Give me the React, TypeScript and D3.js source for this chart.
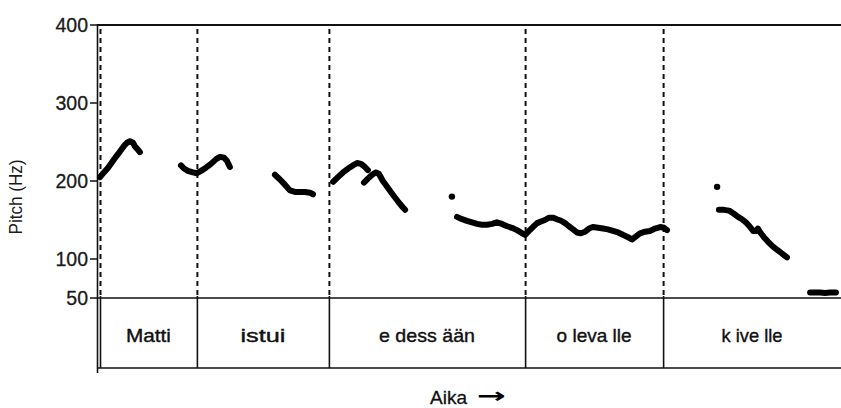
import React from "react";
import * as d3 from "d3";

// time in ms, pitch in Hz
const yTicks = [50, 100, 200, 300, 400];
const wordBounds = [10, 333, 773, 1427, 1887];
const words = ["Matti", "istui", "e dess ään", "o leva lle", "k ive lle"];
const wordWidths = [45, 45, 96, 75, 61];

const seg1: [number, number][] = [[10,205],[23,211],[37,217],[50,224],[63,231],[77,238],[90,245],[100,249],[110,251],[120,249],[127,244],[137,240],[143,237]];
const seg2: [number, number][] = [[280,220],[290,216],[303,213],[320,211],[333,210],[347,213],[363,217],[380,222],[397,228],[410,231],[423,230],[433,226],[443,218]];
const seg3: [number, number][] = [[593,208],[610,202],[627,195],[643,188],[660,186],[677,186],[693,186],[710,185],[720,183]];
const seg4: [number, number][] = [[787,199],[803,205],[820,211],[837,216],[853,220],[867,223],[880,222],[893,218],[903,214]];
const seg5: [number, number][] = [[890,198],[903,203],[917,208],[930,211],[940,209],[953,200],[970,191],[987,182],[1003,174],[1020,166],[1027,163]];
const seg6: [number, number][] = [[1200,154],[1217,151],[1233,149],[1250,147],[1267,145],[1283,144],[1300,144],[1317,145],[1333,147],[1350,145],[1367,142],[1383,140],[1400,137],[1417,133],[1427,131],[1440,136],[1453,141],[1467,146],[1480,148],[1493,150],[1507,153],[1520,153],[1533,151],[1547,149],[1560,146],[1573,142],[1587,138],[1600,134],[1613,133],[1627,135],[1640,139],[1653,141],[1670,140],[1687,139],[1703,138],[1720,136],[1737,134],[1753,131],[1770,128],[1783,125],[1797,129],[1810,133],[1827,135],[1843,136],[1860,139],[1877,141],[1890,140],[1900,137]];
const seg7: [number, number][] = [[2073,163],[2090,163],[2107,162],[2123,158],[2137,154],[2150,151],[2163,147],[2177,141],[2187,136],[2197,136],[2203,139],[2213,133],[2223,128],[2237,122],[2250,117],[2263,113],[2277,109],[2290,105],[2300,102]];
const seg8: [number, number][] = [[2377,57],[2393,57],[2410,57],[2427,56.5],[2443,57],[2463,57]];
const segments = [seg1, seg2, seg3, seg4, seg5, seg6, seg7, seg8];
const isolated: [number, number][] = [[1183,180],[2067,192.5]];

const W = 841, H = 408;
const x = d3.scaleLinear().domain([0, 2480]).range([97, 841]);
const y = d3.scaleLinear().domain([50, 400]).range([298, 25]);
const line = d3.line<[number, number]>().x(d => x(d[0])).y(d => y(d[1]));

const FONT = "'Liberation Sans', Arial, sans-serif";
const TIER_TOP = 298, TIER_BOT = 368;

export default function App() {
  const bx = wordBounds.map(b => x(b));
  const edges = [...bx, W];
  return (
    <svg width={W} height={H} style={{ position: "absolute", left: 0, top: 0, background: "#fff" }}>
      {/* top frame line */}
      <line x1={97} x2={W} y1={25} y2={25} stroke="#111" strokeWidth={2} />
      {/* y axis */}
      <line x1={97.5} x2={97.5} y1={24} y2={373} stroke="#111" strokeWidth={1.6} />
      {yTicks.map(t => (
        <g key={t}>
          <line x1={90} x2={97} y1={y(t)} y2={y(t)} stroke="#111" strokeWidth={1.5} />
          <text x={88} y={y(t) + 7} textAnchor="end" fontFamily={FONT} fontSize={19.5} fill="#1a1a1a"
            stroke="#1a1a1a" strokeWidth={0.3}>{t}</text>
        </g>
      ))}
      <text transform={`translate(22,197) rotate(-90)`} textAnchor="middle" fontFamily={FONT} fontSize={17.5} fill="#1a1a1a"
        textLength={75} lengthAdjust="spacingAndGlyphs">Pitch (Hz)</text>
      {/* dashed word boundaries */}
      {bx.map((b, i) => (
        <line key={i} x1={b + 0.5} x2={b + 0.5} y1={29} y2={TIER_TOP} stroke="#111" strokeWidth={2} strokeDasharray="5,4" />
      ))}
      {/* tier */}
      <line x1={97} x2={W} y1={TIER_TOP} y2={TIER_TOP} stroke="#111" strokeWidth={1.6} />
      <line x1={97} x2={W} y1={TIER_BOT} y2={TIER_BOT} stroke="#111" strokeWidth={1.6} />
      {bx.map((b, i) => (
        <line key={i} x1={b + 0.5} x2={b + 0.5} y1={TIER_TOP - 2} y2={TIER_BOT} stroke="#111" strokeWidth={1.6} />
      ))}
      {words.map((w, i) => (
        <text key={w} x={(edges[i] + edges[i + 1]) / 2} y={342}
          textAnchor="middle" fontFamily={FONT} fontSize={19} fill="#111" stroke="#111" strokeWidth={0.4}
          textLength={wordWidths[i]} lengthAdjust="spacingAndGlyphs">{w}</text>
      ))}
      {/* pitch contour */}
      {segments.map((s, i) => (
        <path key={i} d={line(s) || ""} fill="none" stroke="#000" strokeWidth={6} strokeLinecap="round" strokeLinejoin="round" />
      ))}
      {isolated.map((p, i) => (
        <circle key={i} cx={x(p[0])} cy={y(p[1])} r={3.2} fill="#000" />
      ))}
      <text x={430} y={404} fontFamily={FONT} fontSize={19} fill="#111" stroke="#111" strokeWidth={0.3}>Aika</text>
      <text x={477} y={403} fontFamily="'DejaVu Sans', sans-serif" fontSize={21} fontWeight="bold" fill="#000"
        textLength={29} lengthAdjust="spacingAndGlyphs">→</text>
    </svg>
  );
}
